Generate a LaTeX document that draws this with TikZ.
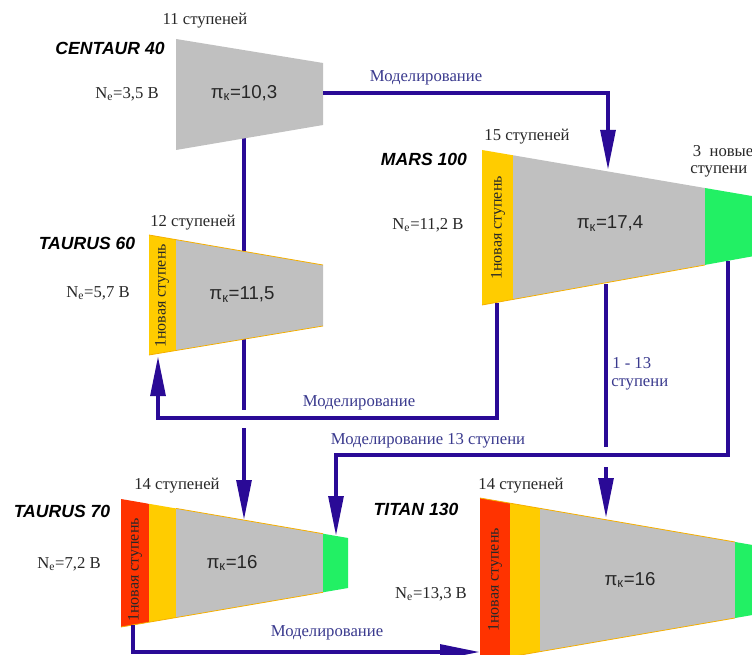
\documentclass[tikz,border=0pt]{standalone}
\usepackage{fontspec}
\setmainfont{Liberation Serif}
\setsansfont{Liberation Sans}
\usetikzlibrary{arrows.meta,calc}
\definecolor{cgray}{RGB}{192,192,192}
\definecolor{cyel}{RGB}{255,204,0}
\definecolor{cred}{RGB}{255,51,0}
\definecolor{cgreen}{RGB}{34,240,100}
\definecolor{cline}{RGB}{42,10,150}
\definecolor{clab}{RGB}{58,58,142}
\definecolor{ctxt}{RGB}{40,40,40}
\definecolor{cedge}{RGB}{245,175,0}
\begin{document}
\begin{tikzpicture}[x=0.75pt,y=-0.75pt,
  conn/.style={draw=cline,line width=3pt},
  arr/.style={conn,-{Triangle[length=30pt,width=11pt]}},
  lbl/.style={text=ctxt,font=\fontsize{12.5}{14}\selectfont,inner sep=0pt},
  mlbl/.style={text=clab,font=\fontsize{12.5}{14}\selectfont,inner sep=0pt},
  mname/.style={text=black,font=\sffamily\bfseries\itshape\fontsize{13.2}{15}\selectfont,inner sep=0pt},
  pik/.style={text=black!85,font=\sffamily\fontsize{14}{16}\selectfont,inner sep=0pt},
  vlbl/.style={text=ctxt,font=\fontsize{12}{14}\selectfont,rotate=90,inner sep=0pt},
  trapedge/.style={draw=cedge,line width=0.6pt},
]
\useasboundingbox (0,0) rectangle (752,655);
\fill[white] (0,0) rectangle (752,655);
\clip (0,0) rectangle (752,655);

% connector end points
\coordinate (cR) at (323,93);
\coordinate (cRk) at (608,93);
\coordinate (mTop) at (608,170);
\coordinate (cB) at (244,137);
\coordinate (cBgap1) at (244,410);
\coordinate (cBgap2) at (244,428);
\coordinate (t70Top) at (244,520);
\coordinate (mB1) at (497,303);
\coordinate (mB1k) at (497,418);
\coordinate (t60k) at (158,418);
\coordinate (t60B) at (158,356);
\coordinate (mB2) at (606,284);
\coordinate (mB2gap1) at (606,447);
\coordinate (mB2gap2) at (606,467);
\coordinate (tiTop) at (606,518);
\coordinate (mB3) at (728,261);
\coordinate (mB3k) at (728,455);
\coordinate (t70k) at (336,455);
\coordinate (t70G) at (336,536);
\coordinate (t70B) at (133,625);
\coordinate (t70Bk) at (133,652);
\coordinate (tiL) at (480,652);

% line under TAURUS 60
\draw[conn] (cB) -- (cBgap1);

% CENTAUR 40
\fill[cgray] (176,39) -- (323,63) -- (323,125) -- (176,150) -- cycle;

% TAURUS 60
\begin{scope}
\clip (149,235) -- (323,265) -- (323,326) -- (149,355) -- cycle;
\fill[cyel] (140,220) rectangle (176,370);
\fill[cgray] (176,220) rectangle (330,370);
\end{scope}
\draw[trapedge] (149,235) -- (323,265) (323,326) -- (149,355);

% MARS 100
\begin{scope}
\clip (482,150) -- (760,197.4) -- (760,255) -- (482,305) -- cycle;
\fill[cyel] (470,140) rectangle (513,320);
\fill[cgray] (513,140) rectangle (705,320);
\fill[cgreen] (705,140) rectangle (770,320);
\end{scope}
\draw[trapedge] (482,305) -- (705,265);

% TAURUS 70
\begin{scope}
\clip (121,499) -- (348,538) -- (348,588) -- (121,627) -- cycle;
\fill[cred] (110,490) rectangle (149,640);
\fill[cyel] (149,490) rectangle (176,640);
\fill[cgray] (176,490) rectangle (323,640);
\fill[cgreen] (323,490) rectangle (360,640);
\end{scope}
\draw[trapedge] (176,508.4) -- (323,533.7) (323,592.3) -- (121,627);

% TITAN 130
\begin{scope}
\clip (480,498) -- (760,546.3) -- (760,613.7) -- (480,662) -- cycle;
\fill[cred] (470,490) rectangle (510,670);
\fill[cyel] (510,490) rectangle (540,670);
\fill[cgray] (540,490) rectangle (735,670);
\fill[cgreen] (735,490) rectangle (770,670);
\end{scope}
\draw[trapedge] (480,498) -- (735,542) (735,618) -- (480,662);

% connectors
\draw[arr] (cR) -- (cRk) -- (mTop);
\draw[arr] (cBgap2) -- (t70Top);
\draw[arr] (mB1) -- (mB1k) -- (t60k) -- (t60B);
\draw[conn] (mB2) -- (mB2gap1);
\draw[arr] (mB2gap2) -- (tiTop);
\draw[arr] (mB3) -- (mB3k) -- (t70k) -- (t70G);
\draw[arr] (t70B) -- (t70Bk) -- (tiL);

% texts: CENTAUR 40
\node[lbl] (c40s) at (205,21) {11 ступеней};
\node[mname] (c40n) at (110,48) {CENTAUR 40};
\node[lbl] (c40p) at (127,94) {N\textsubscript{e}=3,5 В};
\node[pik] (c40k) at (244,93) {π\textsubscript{к}=10,3};
\node[mlbl] (m1) at (426,78) {Моделирование};

% MARS 100
\node[lbl] (m100s) at (527,137) {15 ступеней};
\node[mname] (m100n) at (424,159) {MARS 100};
\node[lbl] (m100p) at (428,225) {N\textsubscript{e}=11,2 В};
\node[pik] (m100k) at (610,224) {π\textsubscript{к}=17,4};
\node[vlbl] (m100v) at (498,228) {1новая ступень};
\node[lbl,anchor=north west,align=left,font=\fontsize{12.5}{12.8}\selectfont] (m100g) at (690,145) {\hspace*{2pt}3\ \ новые\\ступени};

% TAURUS 60
\node[lbl] (t60s) at (193,223) {12 ступеней};
\node[mname] (t60n) at (87,243) {TAURUS 60};
\node[lbl] (t60p) at (98,293) {N\textsubscript{e}=5,7 В};
\node[pik] (t60kk) at (242,295) {π\textsubscript{к}=11,5};
\node[vlbl] (t60v) at (162,296) {1новая ступень};

% middle labels
\node[mlbl] (m2) at (359,403) {Моделирование};
\node[mlbl] (m3) at (428,441) {Моделирование 13 ступени};
\node[mlbl,anchor=west] (m4a) at (612,363) {1 - 13};
\node[mlbl,anchor=west] (m4b) at (611,384) {ступени};

% TAURUS 70
\node[lbl] (t70s) at (177,486) {14 ступеней};
\node[mname] (t70n) at (62,511) {TAURUS 70};
\node[lbl] (t70p) at (69,564) {N\textsubscript{e}=7,2 В};
\node[pik] (t70kk) at (232,563) {π\textsubscript{к}=16};
\node[vlbl] (t70v) at (135,570) {1новая ступень};
\node[mlbl] (m5) at (327,633) {Моделирование};

% TITAN 130
\node[lbl] (tis) at (521,486) {14 ступеней};
\node[mname] (tin) at (416,509) {TITAN 130};
\node[lbl] (tip) at (431,594) {N\textsubscript{e}=13,3 В};
\node[pik] (tik) at (630,580) {π\textsubscript{к}=16};
\node[vlbl] (tiv) at (495,580) {1новая ступень};
\end{tikzpicture}
\end{document}
